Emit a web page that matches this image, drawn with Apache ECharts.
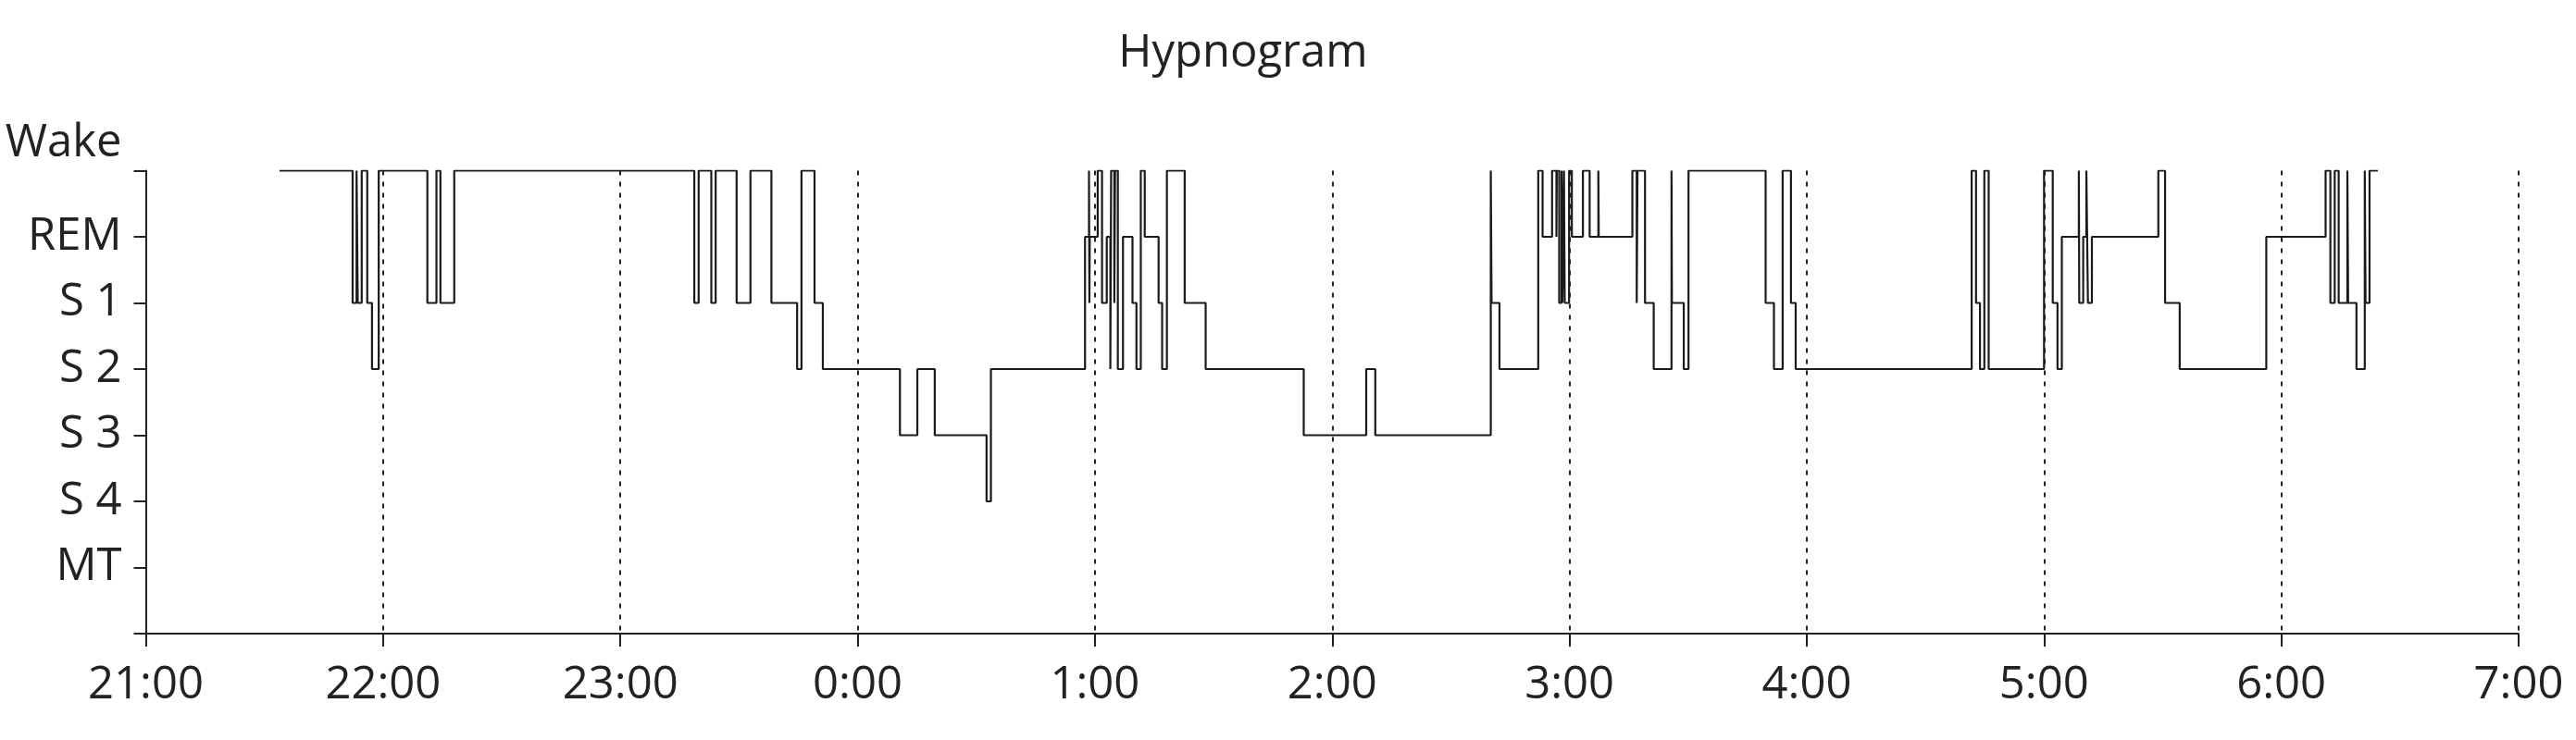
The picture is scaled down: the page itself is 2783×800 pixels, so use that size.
<!DOCTYPE html>
<html>
<head>
<meta charset="utf-8">
<title>Hypnogram</title>
<script src="https://cdn.jsdelivr.net/npm/echarts@6/dist/echarts.min.js"></script>
<style>
  html, body { margin: 0; padding: 0; background: #fff; }
  #hypnogram { width: 2783px; height: 800px; }
</style>
</head>
<body>
<div id="hypnogram"></div>
<script>
// stage names, index = position on the y axis (0 is the bottom line)
var stageNames = ['', 'MT', 'S 4', 'S 3', 'S 2', 'S 1', 'REM', 'Wake'];
// x axis tick labels, one per hour from 21:00
var hourLabels = ['21:00', '22:00', '23:00', '0:00', '1:00', '2:00', '3:00', '4:00', '5:00', '6:00', '7:00'];

// stage changes: minutes after 21:00 and the stage that starts there
var changeMinutes = [
    33.8, 52.3, 53.3, 53.6, 54.6, 56.0, 57.2, 58.9, 71.2, 73.5, 74.5, 78.0,
    138.7, 139.8, 143.0, 144.1, 149.4, 152.9, 158.2, 164.7, 165.8, 169.1, 171.2,
    190.7, 195.1, 199.5, 212.6, 213.7,
    237.5, 238.5, 238.6, 238.7, 240.7, 241.8, 243.0, 243.9, 244.1, 244.9, 245.1, 245.8,
    247.1, 249.5, 250.5, 251.6, 252.6, 256.1, 257.0, 258.2, 262.7, 268.0,
    292.8, 308.6, 310.9, 340.1, 340.3, 342.3,
    352.1, 353.2, 355.6, 356.7, 356.8, 357.4, 358.0, 358.2, 358.6, 358.8, 359.9,
    360.6, 363.4, 365.1, 367.3, 367.4, 375.9, 377.0, 377.2, 379.1, 381.3,
    385.8, 385.9, 388.9, 390.1, 409.6, 411.7, 413.9, 416.0, 417.2,
    461.7, 462.8, 463.8, 464.9, 466.0, 480.0, 482.2, 483.4, 484.5,
    488.8, 488.9, 489.9, 490.7, 491.1, 492.1, 508.9, 510.6, 514.3, 536.2,
    551.2, 552.4, 553.5, 554.5, 556.7, 556.9, 559.0, 561.1, 561.3, 562.3, 564.4
];
var changeStages = [
    'Wake', 'S 1', 'Wake', 'S 1', 'Wake', 'S 1', 'S 2', 'Wake', 'S 1', 'Wake', 'S 1', 'Wake',
    'S 1', 'Wake', 'S 1', 'Wake', 'S 1', 'Wake', 'S 1', 'S 2', 'Wake', 'S 1', 'S 2',
    'S 3', 'S 2', 'S 3', 'S 4', 'S 2',
    'REM', 'Wake', 'S 1', 'REM', 'Wake', 'S 1', 'REM', 'S 2', 'Wake', 'S 1', 'Wake', 'S 2',
    'REM', 'S 1', 'S 2', 'Wake', 'REM', 'S 1', 'S 2', 'Wake', 'S 1', 'S 2',
    'S 3', 'S 2', 'S 3', 'Wake', 'S 1', 'S 2',
    'Wake', 'REM', 'Wake', 'REM', 'Wake', 'S 1', 'Wake', 'S 1', 'Wake', 'S 1', 'Wake',
    'REM', 'Wake', 'REM', 'Wake', 'REM', 'Wake', 'S 1', 'Wake', 'S 1', 'S 2',
    'Wake', 'S 1', 'S 2', 'Wake', 'S 1', 'S 2', 'Wake', 'S 1', 'S 2',
    'Wake', 'S 1', 'S 2', 'Wake', 'S 2', 'Wake', 'S 1', 'S 2', 'REM',
    'Wake', 'S 1', 'REM', 'Wake', 'S 1', 'REM', 'Wake', 'S 1', 'S 2', 'REM',
    'Wake', 'S 1', 'Wake', 'S 1', 'Wake', 'S 1', 'S 2', 'Wake', 'S 1', 'Wake', 'Wake'
];

var stepData = [];
for (var i = 0; i < changeMinutes.length; i++) {
    stepData.push([changeMinutes[i], stageNames.indexOf(changeStages[i])]);
}

var textColor = '#222';
var fontName = '"Open Sans", "Noto Sans", sans-serif';

var myChart = echarts.init(document.getElementById('hypnogram'));
var option = {
    animation: false,
    backgroundColor: '#fff',
    title: {
        text: 'Hypnogram',
        left: 1338,
        top: 29,
        textAlign: 'center',
        textStyle: {
            fontFamily: fontName,
            fontSize: 49,
            fontWeight: 'normal',
            color: textColor
        }
    },
    grid: {
        left: 157.5,
        right: 62,
        top: 184.5,
        bottom: 115
    },
    xAxis: {
        type: 'value',
        min: 0,
        max: 600,
        interval: 60,
        axisLine: { lineStyle: { color: textColor, width: 2 } },
        axisTick: { length: 14, lineStyle: { color: textColor, width: 2 } },
        axisLabel: {
            margin: 32,
            fontFamily: fontName,
            fontSize: 49,
            color: textColor,
            formatter: function (v) { return hourLabels[Math.round(v / 60)]; }
        },
        splitLine: {
            show: true,
            lineStyle: { color: textColor, width: 2, type: [5, 7] }
        }
    },
    yAxis: {
        type: 'value',
        min: 0,
        max: 7,
        interval: 1,
        // the top stage sits above its tick, like an axis name
        name: 'Wake',
        nameLocation: 'end',
        nameGap: 29,
        nameTextStyle: {
            fontFamily: fontName,
            fontSize: 49,
            color: textColor,
            align: 'right',
            verticalAlign: 'middle',
            padding: [0, 26, 0, 0]
        },
        axisLine: { show: true, lineStyle: { color: textColor, width: 2 } },
        axisTick: { show: true, length: 13, lineStyle: { color: textColor, width: 2 } },
        splitLine: { show: false },
        axisLabel: {
            margin: 26,
            fontFamily: fontName,
            fontSize: 49,
            color: textColor,
            hideOverlap: false,
            formatter: function (v) {
                var name = stageNames[Math.round(v)];
                return name === 'Wake' ? '' : name;
            }
        }
    },
    series: [
        {
            name: 'Stage',
            type: 'line',
            step: 'end',
            symbol: 'none',
            data: stepData,
            lineStyle: { color: '#1a1a1a', width: 2.2 }
        }
    ]
};
myChart.setOption(option);
</script>
</body>
</html>
